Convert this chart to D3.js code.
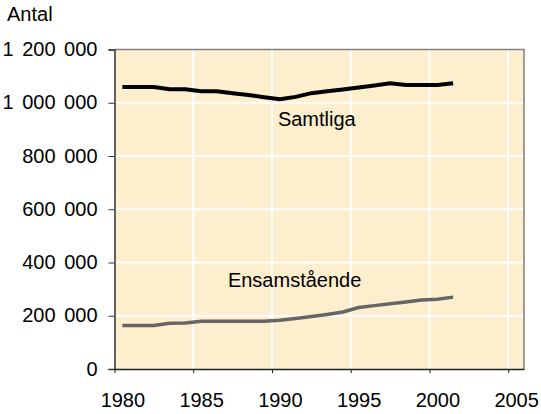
<!DOCTYPE html>
<html>
<head>
<meta charset="utf-8">
<script src="https://cdn.jsdelivr.net/npm/d3@7"></script>
<style>
  body { margin: 0; background: #fff; }
  text { font-family: "Liberation Sans", Arial, sans-serif; }
</style>
</head>
<body>
<div id="root"></div>
<script>
//DATA
const years = [1980,1981,1982,1983,1984,1985,1986,1987,1988,1989,1990,1991,1992,1993,1994,1995,1996,1997,1998,1999,2000,2001];
const samtliga = [1059000,1059000,1059000,1051000,1051000,1043000,1043000,1036000,1029000,1021000,1013000,1022000,1036000,1043000,1050000,1057000,1065000,1073000,1067000,1067000,1067000,1073000];
const ensamstaende = [163000,163000,163000,172000,173000,179000,179000,179000,179000,179000,183000,190000,197000,205000,214000,231000,238000,245000,252000,259000,262000,270000];
const yTicks = [0,200000,400000,600000,800000,1000000,1200000];
const xTicks = [1980,1985,1990,1995,2000,2005];

//DIMENSIONS
const width = 541, height = 414;
const margin = {top: 49.5, right: 17, bottom: 45, left: 114.5};
const w = width - margin.left - margin.right;
const h = height - margin.top - margin.bottom;

//CREATE SVG
const svg = d3.select('#root')
  .append('svg')
  .attr('width', width)
  .attr('height', height);

const g = svg.append('g')
  .attr('transform', `translate(${margin.left},${margin.top})`);

//SCALES
const x = d3.scaleLinear().domain([1980, 2006]).range([0, w]);
const y = d3.scaleLinear().domain([0, 1200000]).range([h, 0]);
const half = (x(1981) - x(1980)) / 2;

//BACKGROUND
g.append('rect')
  .attr('width', w).attr('height', h)
  .attr('fill', '#fdeecd');

//GRID
g.selectAll('.hgrid').data(yTicks.slice(1, -1)).join('line')
  .attr('x1', 0).attr('x2', w)
  .attr('y1', d => y(d)).attr('y2', d => y(d))
  .attr('stroke', '#fff').attr('stroke-width', 2);
g.selectAll('.vgrid').data(xTicks.slice(1)).join('line')
  .attr('y1', 0).attr('y2', h)
  .attr('x1', d => x(d)).attr('x2', d => x(d))
  .attr('stroke', '#fff').attr('stroke-width', 2);

//FRAME (top and right)
g.append('path')
  .attr('d', `M0,0H${w}V${h}`)
  .attr('fill', 'none')
  .attr('stroke', '#808080')
  .attr('stroke-width', 1.5);

//Y AXIS
const fmt = d => d3.format(',')(d).replace(/,/g, '\u00a0');
const yAxis = g.append('g')
  .call(d3.axisLeft(y).tickValues(yTicks).tickSize(6).tickPadding(11).tickFormat(fmt));
yAxis.select('.domain').attr('stroke', '#333').attr('stroke-width', 1.5);
yAxis.selectAll('.tick line').attr('stroke', '#333');
yAxis.selectAll('text')
  .attr('font-size', 20).attr('fill', '#000')
  .attr('dy', '0.3em')
  .style('word-spacing', '3px');

//X AXIS
const xAxis = g.append('g')
  .attr('transform', `translate(0,${h})`)
  .call(d3.axisBottom(x).tickValues(xTicks).tickSize(4).tickSizeOuter(0).tickFormat(d3.format('d')));
xAxis.select('.domain').attr('stroke', '#222').attr('stroke-width', 1.5);
xAxis.selectAll('.tick line').attr('stroke', '#222');
xAxis.selectAll('text')
  .attr('font-size', 20).attr('fill', '#000')
  .attr('x', half)
  .attr('y', 38).attr('dy', 0);

//LINES
const line = d3.line()
  .x((d, i) => x(years[i] + 0.5))
  .y(d => y(d));

g.append('path')
  .datum(samtliga)
  .attr('fill', 'none')
  .attr('stroke', '#000')
  .attr('stroke-width', 4)
  .attr('d', line);

g.append('path')
  .datum(ensamstaende)
  .attr('fill', 'none')
  .attr('stroke', '#666')
  .attr('stroke-width', 3.5)
  .attr('d', line);

//LABELS
g.append('text')
  .attr('x', x(1990.5) - 2).attr('y', y(912000))
  .attr('font-size', 20).text('Samtliga');
g.append('text')
  .attr('x', x(1987.2)).attr('y', y(309000))
  .attr('font-size', 20).text('Ensamstående');

svg.append('text')
  .attr('x', 7).attr('y', 21)
  .attr('font-size', 20).text('Antal');
</script>
</body>
</html>
